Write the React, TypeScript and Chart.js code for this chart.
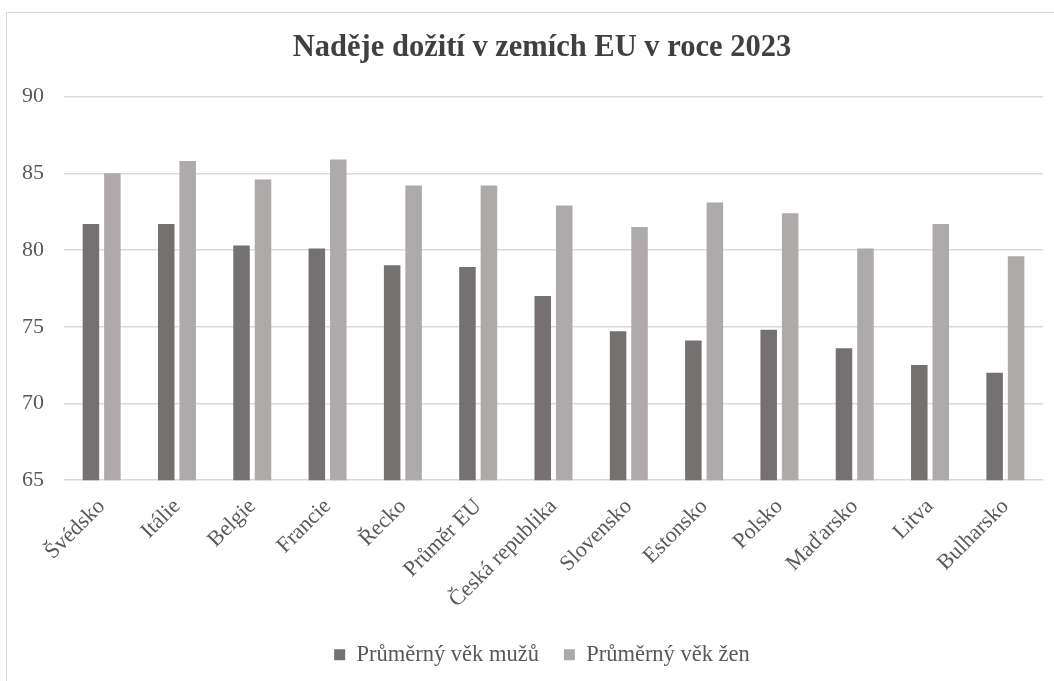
import React, { useEffect, useRef } from "react";
import { Chart, registerables } from "chart.js";

Chart.register(...registerables);

const categories = [
  "Švédsko",
  "Itálie",
  "Belgie",
  "Francie",
  "Řecko",
  "Průměr EU",
  "Česká republika",
  "Slovensko",
  "Estonsko",
  "Polsko",
  "Maďarsko",
  "Litva",
  "Bulharsko",
];

const menValues = [81.7, 81.7, 80.3, 80.1, 79.0, 78.9, 77.0, 74.7, 74.1, 74.8, 73.6, 72.5, 72.0];
const womenValues = [85.0, 85.8, 84.6, 85.9, 84.2, 84.2, 82.9, 81.5, 83.1, 82.4, 80.1, 81.7, 79.6];

const seriesNames = ["Průměrný věk mužů", "Průměrný věk žen"];
const titleText = "Naděje dožití v zemích EU v roce 2023";

const FONT = "'Liberation Serif', 'Times New Roman', serif";
const TEXT = "#595959";

export default function App() {
  const ref = useRef<HTMLCanvasElement | null>(null);

  useEffect(() => {
    if (!ref.current) return;
    const chart = new Chart(ref.current, {
      type: "bar",
      data: {
        labels: categories,
        datasets: [
          {
            label: seriesNames[0],
            data: menValues,
            backgroundColor: "#767171",
            categoryPercentage: 0.57,
            barPercentage: 0.77,
          },
          {
            label: seriesNames[1],
            data: womenValues,
            backgroundColor: "#AEAAAA",
            categoryPercentage: 0.57,
            barPercentage: 0.77,
          },
        ],
      },
      options: {
        responsive: false,
        animation: false,
        layout: { padding: { left: 41, right: 11, top: 0, bottom: 5 } },
        plugins: {
          title: {
            display: true,
            text: titleText,
            color: "#404040",
            font: { family: FONT, size: 30.5, weight: "bold" },
            padding: { top: 30, bottom: 30 },
          },
          legend: {
            position: "bottom",
            labels: {
              color: TEXT,
              font: { family: FONT, size: 22.5 },
              boxWidth: 11,
              boxHeight: 11,
              padding: 25,
            },
          },
          tooltip: { enabled: false },
        },
        scales: {
          x: {
            grid: { display: false },
            border: { display: false },
            ticks: {
              color: TEXT,
              font: { family: FONT, size: 22 },
              maxRotation: 45,
              minRotation: 45,
              padding: 5.5,
            },
          },
          y: {
            min: 65,
            max: 90,
            border: { display: false },
            grid: { color: "#d9d9d9", lineWidth: 1.5, drawTicks: false },
            ticks: {
              stepSize: 5,
              color: TEXT,
              font: { family: FONT, size: 22 },
              mirror: true,
              padding: -42,
            },
            afterFit: (scale: any) => {
              scale.width = 23;
            },
          },
        },
      },
    });
    return () => chart.destroy();
  }, []);

  return (
    <div
      style={{
        position: "fixed",
        left: 0,
        top: 0,
        width: 1054,
        height: 681,
        overflow: "hidden",
        background: "#fff",
      }}
    >
      <div
        style={{
          position: "absolute",
          left: 6,
          top: 12,
          width: 1100,
          height: 720,
          border: "1px solid #d9d9d9",
        }}
      />
      <canvas
        ref={ref}
        width={1054}
        height={681}
        style={{ position: "absolute", left: 0, top: 0, width: 1054, height: 681 }}
      />
    </div>
  );
}
